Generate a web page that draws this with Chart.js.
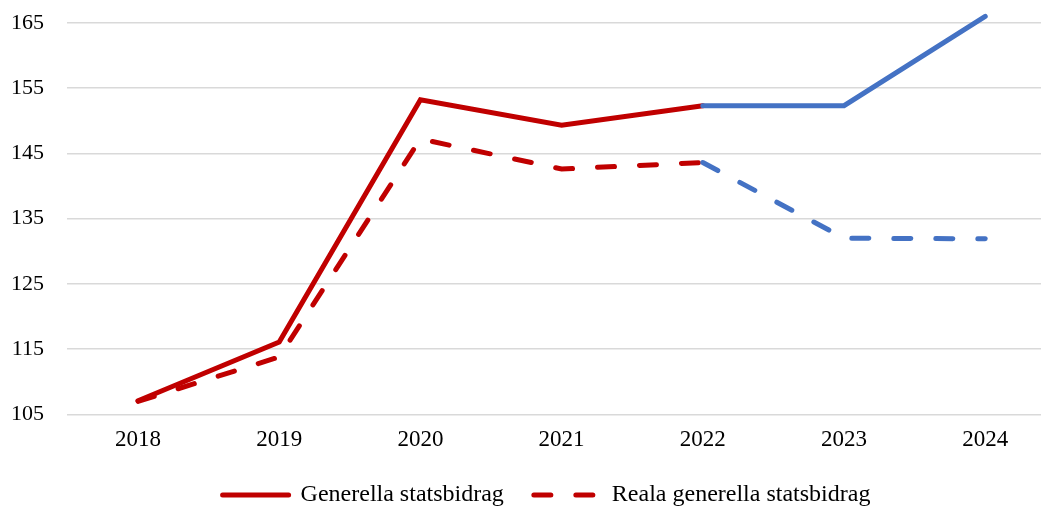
<!DOCTYPE html>
<html>
<head>
<meta charset="utf-8">
<script src="https://cdn.jsdelivr.net/npm/chart.js@4"></script>
<style>
  html,body{margin:0;padding:0;background:#fff}
  #wrap{width:1041px;height:508px;position:relative}
</style>
</head>
<body>
<div id="wrap"><canvas id="chart"></canvas></div>
<script>
// ─── DATA ─────────────────────────────────────────────────────────────────────
const years = [2018, 2019, 2020, 2021, 2022, 2023, 2024];
const generella = [107.1, 116.1, 153.2, 149.3, 152.3, 152.3, 166.0];
const reala = [107.0, 113.8, 147.2, 142.6, 143.6, 132.0, 131.9];
const yTicks = [105, 115, 125, 135, 145, 155, 165];

const RED = '#C00000', BLUE = '#4472C4';
const FONT = '"Liberation Serif", "Times New Roman", serif';
// från 2022 ritas linjerna blå
const segColor = c => c.p0DataIndex >= 4 ? BLUE : RED;

// flytta legenden lite åt höger (centrerad på plotytan, inte hela duken)
const legendShift = {
  id:'legendShift',
  afterLayout(chart){ const l = chart.legend; if (l) { l.left += 26; l.right += 26; } }
};

new Chart(document.getElementById('chart'), {
  type:'line',
  data:{datasets:[
    {label:'Generella statsbidrag', data:years.map((x,i)=>({x, y:generella[i]})),
     borderColor:RED, backgroundColor:RED, borderWidth:5, borderCapStyle:'round', borderJoinStyle:'miter',
     pointRadius:0, tension:0, segment:{borderColor:segColor}},
    {label:'Reala generella statsbidrag', data:years.map((x,i)=>({x, y:reala[i]})),
     borderColor:RED, backgroundColor:RED, borderWidth:5, borderDash:[17,25], borderCapStyle:'round',
     pointRadius:0, tension:0, segment:{borderColor:segColor}}
  ]},
  plugins:[legendShift],
  options:{responsive:true, maintainAspectRatio:false, animation:false,
    layout:{padding:{top:0, right:0, bottom:-9, left:0}},
    scales:{
      x:{type:'linear', min:2017.497, max:2024.395,
        afterBuildTicks:s=>{ s.ticks = years.map(v=>({value:v})); },
        afterFit:s=>{ s.paddingLeft = 0; s.paddingRight = 0; s.height -= 13; },
        grid:{display:false, drawTicks:false}, border:{display:false},
        ticks:{color:'#000', font:{family:FONT, size:23}, padding:12, callback:v=>String(v), maxRotation:0}},
      y:{min:105, max:168.5,
        afterBuildTicks:s=>{ s.ticks = yTicks.map(v=>({value:v})); },
        afterFit:s=>{ s.width = 67; s.paddingTop = 0; s.paddingBottom = 0; },
        grid:{color:'#d9d9d9', lineWidth:1.5, drawTicks:false}, border:{display:false},
        ticks:{color:'#000', font:{family:FONT, size:22}, padding:23}}
    },
    plugins:{
      legend:{position:'bottom',
        labels:{color:'#000', font:{family:FONT, size:24}, usePointStyle:true, pointStyle:'line',
          pointStyleWidth:66, boxHeight:24, padding:30,
          generateLabels:chart => Chart.defaults.plugins.legend.labels.generateLabels(chart).map(item => {
            const ds = chart.data.datasets[item.datasetIndex];
            return {...item, strokeStyle:RED, fillStyle:RED, lineWidth:5, lineCap:'round',
              lineDash:ds.borderDash || [], pointStyle:'line'};
          })}},
      tooltip:{enabled:false}
    }}
});
</script>
</body>
</html>
